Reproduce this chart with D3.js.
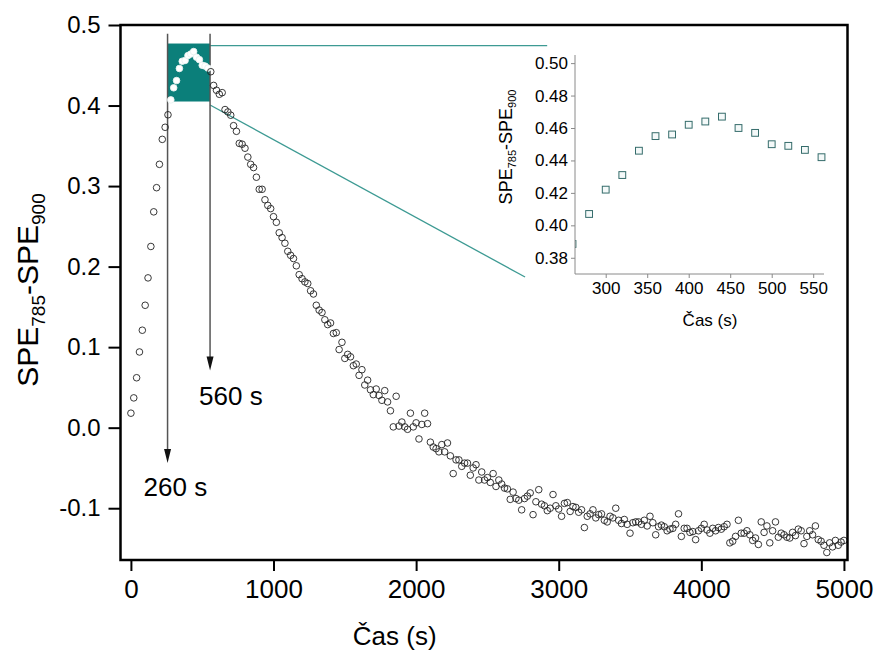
<!DOCTYPE html>
<html>
<head>
<meta charset="utf-8">
<script src="https://cdn.jsdelivr.net/npm/d3@7"></script>
<style>
  body { margin: 0; background: #fff; }
  svg { display: block; }
  text { font-family: "Liberation Sans", Arial, sans-serif; }
</style>
</head>
<body>
<div id="chart"></div>
<script>
// measurement every 20 s, starting at 0 s
const startTime = 0;
const timeStep = 20;

// SPE785 - SPE900
const speValues = [
  0.018, 0.037, 0.062, 0.094, 0.121, 0.152, 0.186, 0.225, 0.268, 0.298, 0.327, 0.358, 0.373, 0.3885,
  0.407, 0.422, 0.431, 0.446, 0.455, 0.456, 0.462, 0.464, 0.467, 0.460, 0.457, 0.450, 0.449, 0.4465, 0.442,
  0.425, 0.419, 0.414, 0.416, 0.395, 0.392, 0.388, 0.375, 0.368, 0.353, 0.352, 0.347, 0.336, 0.327, 0.323,
  0.311, 0.296, 0.296, 0.283, 0.276, 0.272, 0.262,
  0.255, 0.242, 0.236, 0.229, 0.219, 0.214, 0.210, 0.201, 0.190, 0.185, 0.181, 0.179, 0.170, 0.166, 0.152,
  0.146, 0.143, 0.134, 0.128, 0.130, 0.117, 0.118, 0.097, 0.106, 0.086,
  0.091, 0.088, 0.077, 0.079, 0.065, 0.072, 0.053, 0.059, 0.047, 0.041, 0.048, 0.040, 0.034, 0.046, 0.032,
  0.021, 0.001, 0.039, 0.002, 0.007, 0.001, -0.002, 0.018, 0.001, 0.006,
  -0.014, 0.004, 0.018, 0.005, -0.018, -0.024, -0.026, -0.030, -0.021, -0.030, -0.019, -0.035, -0.057,
  -0.040, -0.040, -0.048, -0.044, -0.044, -0.059, -0.050, -0.046, -0.065, -0.055, -0.065, -0.062,
  -0.068, -0.057, -0.073, -0.065, -0.070, -0.075, -0.076, -0.089, -0.080, -0.088, -0.090, -0.102, -0.088,
  -0.085, -0.081, -0.108, -0.092, -0.077, -0.095, -0.097, -0.103, -0.100, -0.083, -0.097, -0.101,
  -0.110, -0.094, -0.093, -0.104, -0.098, -0.099, -0.105, -0.102, -0.124, -0.110, -0.107, -0.102, -0.112,
  -0.108, -0.107, -0.115, -0.117, -0.110, -0.112, -0.100, -0.115, -0.119, -0.114, -0.120, -0.131,
  -0.118, -0.117, -0.117, -0.120, -0.115, -0.122, -0.110, -0.118, -0.133, -0.123, -0.121, -0.123, -0.128,
  -0.126, -0.125, -0.120, -0.107, -0.135, -0.125, -0.125, -0.130, -0.129, -0.139, -0.128, -0.125,
  -0.120, -0.127, -0.131, -0.125, -0.128, -0.124, -0.126, -0.123, -0.120, -0.143, -0.141, -0.135, -0.115,
  -0.131, -0.131, -0.128, -0.133, -0.140, -0.137, -0.145, -0.117, -0.130, -0.122, -0.143, -0.128,
  -0.117, -0.136, -0.131, -0.133, -0.136, -0.137, -0.130, -0.134, -0.126, -0.128, -0.144, -0.135, -0.128,
  -0.133, -0.122, -0.139, -0.141, -0.146, -0.155, -0.143, -0.148, -0.140, -0.146, -0.142, -0.140
];

const xTicks = [0, 1000, 2000, 3000, 4000, 5000];
const yTicks = [-0.1, 0.0, 0.1, 0.2, 0.3, 0.4, 0.5];
const insetXTicks = [300, 350, 400, 450, 500, 550];
const insetYTicks = [0.38, 0.40, 0.42, 0.44, 0.46, 0.48, 0.50];

// annotations (data units)
const markTimes = [257, 555];
const markTops = [0.489, 0.489];
const markEnds = [-0.044, 0.071];
const markLabels = ["260 s", "560 s"];
const zoomWindow = [257, 555, 0.405, 0.477]; // t0, t1, v0, v1
const insetRange = [263, 563, 0.37, 0.505];

const data = speValues.map((v, i) => ({ t: startTime + i * timeStep, v: v }));

const width = 877, height = 652;
const svg = d3.select("#chart").append("svg")
  .attr("width", width).attr("height", height);
svg.append("rect").attr("width", width).attr("height", height).attr("fill", "#fff");

const x = d3.scaleLinear().domain([-73, 5025]).range([120.5, 847.5]);
const y = d3.scaleLinear().domain([-0.1643, 0.5]).range([560, 25]);

// zoom window (teal box)
const teal = "#0b7f7a";
svg.append("rect")
  .attr("x", x(zoomWindow[0])).attr("y", y(zoomWindow[3]))
  .attr("width", x(zoomWindow[1]) - x(zoomWindow[0]))
  .attr("height", y(zoomWindow[2]) - y(zoomWindow[3]))
  .attr("fill", teal);

// connector lines towards the inset
const link = "#3d9a93";
svg.append("line")
  .attr("x1", x(zoomWindow[1])).attr("y1", y(0.4745))
  .attr("x2", x(2919)).attr("y2", y(0.4745))
  .attr("stroke", link).attr("stroke-width", 1.3);
svg.append("line")
  .attr("x1", x(zoomWindow[1])).attr("y1", y(0.4007))
  .attr("x2", x(2764)).attr("y2", y(0.1871))
  .attr("stroke", link).attr("stroke-width", 1.3);

// vertical marker lines with arrows
markTimes.forEach((t, i) => {
  const px = x(t);
  svg.append("line")
    .attr("x1", px).attr("x2", px)
    .attr("y1", y(markTops[i])).attr("y2", y(markEnds[i]) - 10)
    .attr("stroke", "#555").attr("stroke-width", 1.5);
  const tip = y(markEnds[i]);
  svg.append("path")
    .attr("d", `M${px - 3.5},${tip - 14}L${px + 3.5},${tip - 14}L${px},${tip}Z`)
    .attr("fill", "#111");
});
svg.append("text").attr("x", x(markTimes[0]) - 24).attr("y", y(markEnds[0]) + 33)
  .attr("font-size", 26).text(markLabels[0]);
svg.append("text").attr("x", x(markTimes[1]) - 11).attr("y", y(markEnds[1]) + 35)
  .attr("font-size", 26).text(markLabels[1]);

// scatter
const inBox = (d) => d.t >= zoomWindow[0] && d.t <= zoomWindow[1] &&
  d.v >= zoomWindow[2] && d.v <= zoomWindow[3];
svg.append("g").selectAll("circle")
  .data(data)
  .join("circle")
  .attr("cx", (d) => x(d.t))
  .attr("cy", (d) => y(d.v))
  .attr("r", 3.3)
  .attr("fill", (d) => inBox(d) ? "#fff" : "none")
  .attr("stroke", (d) => inBox(d) ? "#e8f2f1" : "#222")
  .attr("stroke-width", 0.9);

// axes
const xAxis = svg.append("g").attr("transform", "translate(0,560)");
xAxis.call(d3.axisBottom(x).tickValues(d3.range(500, 5001, 1000)).tickSize(6).tickFormat(""));
xAxis.call(d3.axisBottom(x).tickValues(xTicks).tickSize(11).tickPadding(9)
  .tickFormat(d3.format("d")));
xAxis.selectAll(".domain").remove();
xAxis.selectAll("line").attr("stroke", "#000").attr("stroke-width", 2);
xAxis.selectAll("text").attr("font-size", 26).attr("fill", "#000")
  .attr("font-family", "Liberation Sans, Arial, sans-serif");

const yAxis = svg.append("g").attr("transform", "translate(120.5,0)");
yAxis.call(d3.axisLeft(y).tickValues([-0.15, -0.05, 0.05, 0.15, 0.25, 0.35, 0.45]).tickSize(6).tickFormat(""));
yAxis.call(d3.axisLeft(y).tickValues(yTicks).tickSize(12).tickPadding(8)
  .tickFormat(d3.format(".1f")));
yAxis.selectAll(".domain").remove();
yAxis.selectAll("line").attr("stroke", "#000").attr("stroke-width", 2);
yAxis.selectAll("text").attr("font-size", 24).attr("fill", "#000")
  .attr("font-family", "Liberation Sans, Arial, sans-serif")
  .text((d) => d3.format(".1f")(d).replace("−", "-"));

// frame
svg.append("rect")
  .attr("x", 120.5).attr("y", 25)
  .attr("width", 847.5 - 120.5).attr("height", 560 - 25)
  .attr("fill", "none").attr("stroke", "#000").attr("stroke-width", 2.5);

// axis titles
svg.append("text")
  .attr("x", x(1850)).attr("y", 645)
  .attr("text-anchor", "middle").attr("font-size", 26)
  .text("Čas (s)");

const yTitle = svg.append("text")
  .attr("transform", "translate(38,290) rotate(-90)")
  .attr("text-anchor", "middle").attr("font-size", 30);
yTitle.append("tspan").text("SPE");
yTitle.append("tspan").attr("font-size", 19).attr("dy", 7).text("785");
yTitle.append("tspan").attr("dy", -7).text("-SPE");
yTitle.append("tspan").attr("font-size", 19).attr("dy", 7).text("900");

// inset
const ix = d3.scaleLinear().domain(insetRange.slice(0, 2)).range([575, 824]);
const iy = d3.scaleLinear().domain(insetRange.slice(2)).range([274, 55]);
const inset = svg.append("g");
inset.append("clipPath").attr("id", "insetClip")
  .append("rect").attr("x", 575).attr("y", 50).attr("width", 255).attr("height", 224);

inset.append("g").attr("clip-path", "url(#insetClip)")
  .selectAll("rect")
  .data(data.filter((d) => d.t >= 240 && d.t <= 580))
  .join("rect")
  .attr("x", (d) => ix(d.t) - 3.4)
  .attr("y", (d) => iy(d.v) - 3.4)
  .attr("width", 6.8).attr("height", 6.8)
  .attr("fill", "#f4f9f9")
  .attr("stroke", "#356c6b").attr("stroke-width", 1);

const gray = "#8a8a8a";
const iXAxis = inset.append("g").attr("transform", "translate(0,274)");
iXAxis.call(d3.axisBottom(ix).tickValues([275, 325, 375, 425, 475, 525]).tickSize(3).tickFormat(""));
iXAxis.call(d3.axisBottom(ix).tickValues(insetXTicks).tickSize(4).tickPadding(4).tickFormat(d3.format("d")));
iXAxis.selectAll(".domain").attr("stroke", gray).attr("d", "M575,0H824");
iXAxis.selectAll("line").attr("stroke", gray);
iXAxis.selectAll("text").attr("font-size", 17).attr("fill", "#000")
  .attr("font-family", "Liberation Sans, Arial, sans-serif");

const iYAxis = inset.append("g").attr("transform", "translate(575,0)");
iYAxis.call(d3.axisLeft(iy).tickValues([0.39, 0.41, 0.43, 0.45, 0.47, 0.49]).tickSize(3).tickFormat(""));
iYAxis.call(d3.axisLeft(iy).tickValues(insetYTicks).tickSize(4).tickPadding(3).tickFormat(d3.format(".2f")));
iYAxis.selectAll(".domain").attr("stroke", gray).attr("d", "M0,55V274");
iYAxis.selectAll("line").attr("stroke", gray);
iYAxis.selectAll("text").attr("font-size", 17).attr("fill", "#000")
  .attr("font-family", "Liberation Sans, Arial, sans-serif");

inset.append("text")
  .attr("x", 710).attr("y", 326)
  .attr("text-anchor", "middle").attr("font-size", 17)
  .text("Čas (s)");

const iyTitle = inset.append("text")
  .attr("transform", "translate(512,147) rotate(-90)")
  .attr("text-anchor", "middle").attr("font-size", 18);
iyTitle.append("tspan").text("SPE");
iyTitle.append("tspan").attr("font-size", 11).attr("dy", 4).text("785");
iyTitle.append("tspan").attr("dy", -4).text("-SPE");
iyTitle.append("tspan").attr("font-size", 11).attr("dy", 4).text("900");
</script>
</body>
</html>
